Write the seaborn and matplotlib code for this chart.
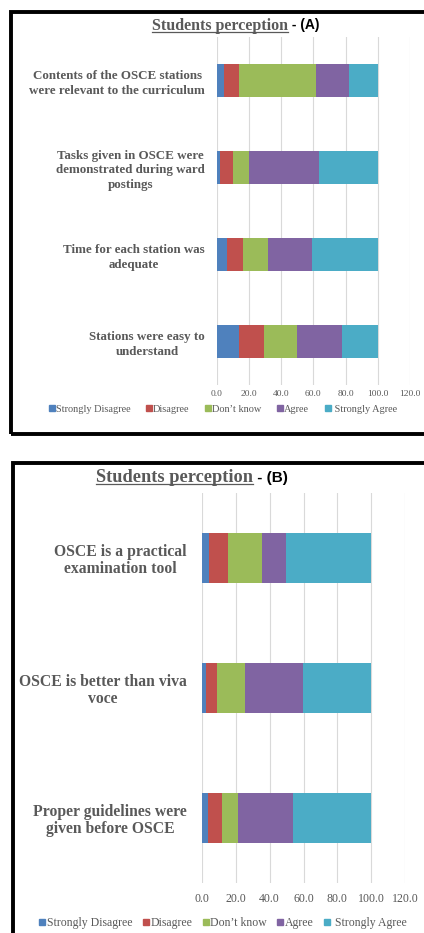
import matplotlib
matplotlib.use("Agg")
import matplotlib.pyplot as plt
import seaborn as sns
import pandas as pd
from matplotlib.lines import Line2D
from matplotlib.patches import Rectangle

# Response levels and their colours
levels = ["Strongly Disagree", "Disagree", "Don’t know", "Agree", "Strongly Agree"]
level_colors = ["#4F81BD", "#C0504D", "#9BBB59", "#8064A2", "#4BACC6"]

# Panel A statements and percentages
categories_a = [
    "Contents of the OSCE stations\nwere relevant to the curriculum",
    "Tasks given in OSCE were\ndemonstrated during ward\npostings",
    "Time for each station was\nadequate",
    "Stations were easy to\nunderstand",
]
strongly_disagree_a = [4.6, 1.9, 6.6, 13.7]
disagree_a = [9.1, 8.3, 9.8, 15.6]
dont_know_a = [47.9, 9.9, 15.5, 20.7]
agree_a = [20.5, 43.6, 27.6, 27.8]
strongly_agree_a = [17.9, 36.3, 40.5, 22.2]

# Panel B statements and percentages
categories_b = [
    "OSCE is a practical\nexamination tool",
    "OSCE is better than viva\nvoce",
    "Proper guidelines were\ngiven before OSCE",
]
strongly_disagree_b = [4.5, 2.4, 3.5]
disagree_b = [11.2, 6.8, 8.3]
dont_know_b = [20.1, 16.1, 9.8]
agree_b = [13.9, 34.2, 32.0]
strongly_agree_b = [50.3, 40.5, 46.4]

x_ticks = [0, 20, 40, 60, 80, 100, 120]
x_tick_labels = ["0.0", "20.0", "40.0", "60.0", "80.0", "100.0", "120.0"]

GRAY = "#595959"
SERIF = "Liberation Serif"
SANS = "Liberation Sans"

W, H = 424, 933
fig = plt.figure(figsize=(W / 100, H / 100), dpi=100)
fig.patch.set_facecolor("white")


def fx(px):
    return px / W


def fy(py):
    return 1 - py / H


def stacked_panel(ax, cats, series, fs_label, fs_tick, label_pad, tick_pad, lsp):
    df = pd.DataFrame(dict(zip(levels, series)), index=cats)
    cum = df.cumsum(axis=1)
    # draw running totals from the widest down so each segment shows its share
    for lvl, col in reversed(list(zip(levels, level_colors))):
        sns.barplot(x=cum[lvl].values, y=cats, order=cats, orient="h",
                    color=col, saturation=1, width=0.39, errorbar=None,
                    linewidth=0, ax=ax)
    ax.set_xlim(0, 120)
    ax.set_ylim(len(cats) - 0.5, -0.5)
    ax.set_xticks(x_ticks)
    ax.set_xticklabels(x_tick_labels, fontfamily=SERIF, fontsize=fs_tick, color=GRAY)
    ax.set_yticks(range(len(cats)))
    ax.set_yticklabels(cats, fontfamily=SERIF, fontweight="bold",
                       fontsize=fs_label, color=GRAY, linespacing=lsp)
    for t in ax.get_yticklabels():
        t.set_multialignment("center")
    ax.tick_params(axis="both", length=0)
    ax.tick_params(axis="y", pad=label_pad)
    ax.tick_params(axis="x", pad=tick_pad)
    ax.set_xlabel("")
    ax.set_ylabel("")
    for s in ax.spines.values():
        s.set_visible(False)
    ax.set_axisbelow(True)
    ax.xaxis.grid(True, color="#D9D9D9", linewidth=0.8)
    ax.yaxis.grid(False)
    ax.set_facecolor("white")


def add_title(x_px, base_px, fs_serif, fs_sans, tag):
    t1 = fig.text(fx(x_px), fy(base_px), "Students perception", fontfamily=SERIF,
                  fontweight="bold", fontsize=fs_serif, color=GRAY,
                  ha="left", va="baseline")
    fig.canvas.draw()
    bb = t1.get_window_extent()
    fig.text(bb.x1 / W, fy(base_px), " - (" + tag + ")", fontfamily=SANS,
             fontweight="bold", fontsize=fs_sans, color="black",
             ha="left", va="baseline")
    fig.add_artist(Line2D([bb.x0 / W, bb.x1 / W], [fy(base_px + 2.6)] * 2,
                          transform=fig.transFigure, color=GRAY, linewidth=0.9))


def add_legend(cx_px, cy_px, fs, msize, colsp):
    handles = [Line2D([], [], marker="s", linestyle="", color=c, markersize=msize)
               for c in level_colors]
    labels = levels[:-1] + [" " + levels[-1]]
    fig.legend(handles, labels, loc="center", bbox_to_anchor=(fx(cx_px), fy(cy_px)),
               ncol=5, frameon=False, handlelength=0.5, handletextpad=0.15,
               columnspacing=colsp, borderaxespad=0, borderpad=0,
               prop={"family": SERIF, "size": fs}, labelcolor=GRAY)


def add_frame(x0, y0, x1, y1):
    fig.add_artist(Rectangle((fx(x0), fy(y1)), (x1 - x0) / W, (y1 - y0) / H,
                             transform=fig.transFigure, fill=False,
                             edgecolor="black", linewidth=2.8))


# Panel A
ax_a = fig.add_axes([fx(216.7), fy(385), (409.9 - 216.7) / W, (385 - 37) / H])
stacked_panel(ax_a, categories_a,
              [strongly_disagree_a, disagree_a, dont_know_a, agree_a, strongly_agree_a],
              fs_label=9.4, fs_tick=6.8, label_pad=8.4, tick_pad=3.5, lsp=1.3)
add_title(152, 29.5, 11.5, 10.0, "A")
add_legend(223, 409, 7.4, 4.0, 1.55)
add_frame(11, 12.5, 440, 434)

# Panel B
ax_b = fig.add_axes([fx(201.7), fy(883), (405.3 - 201.7) / W, (883 - 493) / H])
stacked_panel(ax_b, categories_b,
              [strongly_disagree_b, disagree_b, dont_know_b, agree_b, strongly_agree_b],
              fs_label=11.3, fs_tick=8.6, label_pad=10.8, tick_pad=7.0, lsp=1.05)
add_title(96, 481.7, 13.2, 11.0, "B")
add_legend(223, 923, 8.5, 4.8, 0.88)
add_frame(13, 463, 440, 960)

fig.savefig("out.png", dpi=100)
